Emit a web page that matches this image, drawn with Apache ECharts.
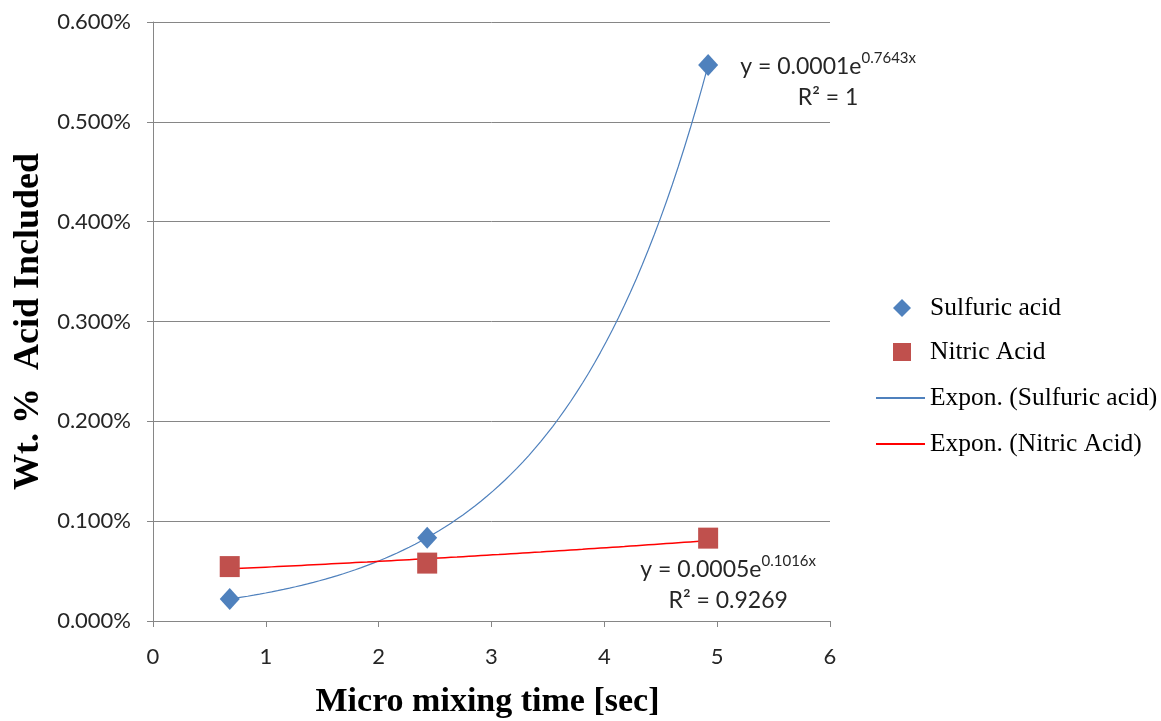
<!DOCTYPE html>
<html>
<head>
<meta charset="utf-8">
<script src="https://cdn.jsdelivr.net/npm/echarts@6/dist/echarts.min.js"></script>
<style>html,body{margin:0;padding:0;background:#fff;}#c{width:1161px;height:721px;}</style>
</head>
<body>
<div id="c"></div>
<script>
// Data (x = micro mixing time [sec], y = weight fraction)
const sulfuricX = [0.68, 2.43, 4.92];
const sulfuricY = [0.00022, 0.000834, 0.00557];
const nitricX = [0.68, 2.43, 4.92];
const nitricY = [0.000545, 0.00058, 0.00083];
const yTicks = [0, 0.001, 0.002, 0.003, 0.004, 0.005, 0.006];
const xTicks = [0, 1, 2, 3, 4, 5, 6];
const sulfuricEq = { a: '0.0001', b: '0.7643', r2: '1' };
const nitricEq = { a: '0.0005', b: '0.1016', r2: '0.9269' };

// Exponential trendline (least squares on ln y), as the spreadsheet does
function expFit(xs, ys) {
  const n = xs.length;
  const ly = ys.map(Math.log);
  const mx = xs.reduce((s, v) => s + v, 0) / n;
  const my = ly.reduce((s, v) => s + v, 0) / n;
  let sxy = 0, sxx = 0;
  for (let i = 0; i < n; i++) { sxy += (xs[i] - mx) * (ly[i] - my); sxx += (xs[i] - mx) ** 2; }
  const b = sxy / sxx, lnA = my - b * mx;
  const x0 = Math.min(...xs), x1 = Math.max(...xs);
  const pts = [];
  const N = 80;
  for (let i = 0; i <= N; i++) { const x = x0 + (x1 - x0) * i / N; pts.push([x, Math.exp(lnA + b * x)]); }
  return pts;
}

const richStyles = {
  a: { fontFamily: 'Lato', fontSize: 23, color: '#262626', lineHeight: 31 },
  sup: { fontFamily: 'Lato', fontSize: 15, color: '#262626', lineHeight: 18, verticalAlign: 'top' }
};
function eqLabel(eq, offset) {
  return {
    show: true, position: 'inside', offset: offset, align: 'center', verticalAlign: 'middle',
    formatter: '{a|y = ' + eq.a + 'e}{sup|' + eq.b + 'x}\n{a|R² = ' + eq.r2 + '}',
    rich: richStyles
  };
}
// scatter points; the last one carries the trendline equation
function pointData(xs, ys, eq, offset) {
  return xs.map((x, i) => i === xs.length - 1 ? { value: [x, ys[i]], label: eqLabel(eq, offset) } : [x, ys[i]]);
}

const chart = echarts.init(document.getElementById('c'));
const axisColor = '#868686';
const legendText = { fontFamily: 'Liberation Serif', fontSize: 25.5, color: '#000' };
chart.setOption({
  backgroundColor: '#fff',
  animation: false,
  grid: { left: 153, right: 331, top: 22, bottom: 100, containLabel: false, outerBoundsMode: 'none' },
  xAxis: {
    type: 'value', min: xTicks[0], max: xTicks[xTicks.length - 1], interval: 1,
    name: 'Micro mixing time [sec]', nameLocation: 'middle', nameGap: 64,
    nameTextStyle: { fontFamily: 'Liberation Serif', fontWeight: 'bold', fontSize: 34, color: '#000', padding: [0, 8, 0, 0] },
    axisLine: { show: true, onZero: false, lineStyle: { color: axisColor, width: 1 } },
    axisTick: { show: true, length: 6, lineStyle: { color: axisColor } },
    axisLabel: { fontFamily: 'Lato', fontSize: 22, color: '#262626', margin: 25 },
    splitLine: { show: false }
  },
  yAxis: {
    type: 'value', min: yTicks[0], max: yTicks[yTicks.length - 1], interval: 0.001,
    name: 'Wt. %  Acid Included', nameLocation: 'middle', nameGap: 101,
    nameTextStyle: { fontFamily: 'Liberation Serif', fontWeight: 'bold', fontSize: 36, color: '#000' },
    axisLine: { show: true, lineStyle: { color: axisColor, width: 1 } },
    axisTick: { show: true, length: 6, lineStyle: { color: axisColor } },
    axisLabel: { fontFamily: 'Lato', fontSize: 22, color: '#262626', margin: 22,
      formatter: v => (v * 100).toFixed(3) + '%' },
    splitLine: { show: true, lineStyle: { color: axisColor, width: 1 } }
  },
  legend: [
    {
      left: 893, top: 295, padding: 0, orient: 'vertical', itemWidth: 18, itemHeight: 18, itemGap: 18,
      textStyle: Object.assign({ padding: [0, 0, 0, 14] }, legendText),
      data: [
        { name: 'Sulfuric acid', icon: 'diamond' },
        { name: 'Nitric Acid', icon: 'rect' }
      ]
    },
    {
      left: 876, top: 385, padding: 0, orient: 'vertical', itemWidth: 49, itemHeight: 2, itemGap: 20,
      textStyle: legendText,
      data: [
        { name: 'Expon. (Sulfuric acid)', icon: 'rect' },
        { name: 'Expon. (Nitric Acid)', icon: 'rect' }
      ]
    }
  ],
  series: [
    {
      name: 'Expon. (Sulfuric acid)', type: 'line', showSymbol: false, symbol: 'none', z: 2,
      lineStyle: { color: '#4F81BD', width: 1.2 }, itemStyle: { color: '#4F81BD' },
      data: expFit(sulfuricX, sulfuricY)
    },
    {
      name: 'Expon. (Nitric Acid)', type: 'line', showSymbol: false, symbol: 'none', z: 2,
      lineStyle: { color: '#FF0000', width: 1.5 }, itemStyle: { color: '#FF0000' },
      data: expFit(nitricX, nitricY)
    },
    {
      name: 'Sulfuric acid', type: 'scatter', symbol: 'diamond', symbolSize: [20, 22], z: 5,
      itemStyle: { color: '#4F81BD', opacity: 1 },
      data: pointData(sulfuricX, sulfuricY, sulfuricEq, [120, 17])
    },
    {
      name: 'Nitric Acid', type: 'scatter', symbol: 'rect', symbolSize: [20, 21], z: 4,
      itemStyle: { color: '#C0504D', opacity: 1 },
      data: pointData(nitricX, nitricY, nitricEq, [20, 47])
    }
  ]
});
</script>
</body>
</html>
